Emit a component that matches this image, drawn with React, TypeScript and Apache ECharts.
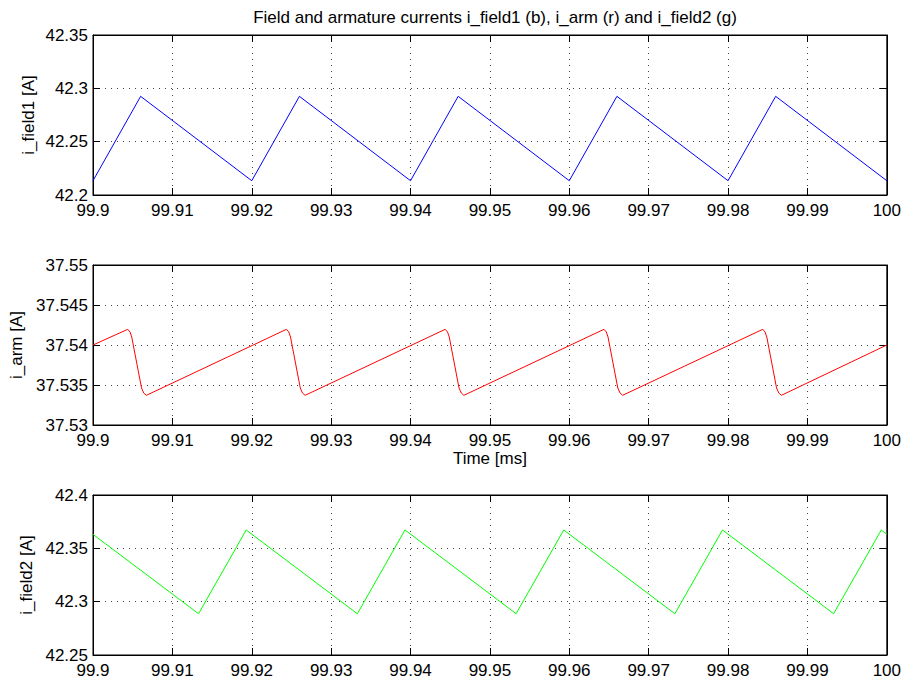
import React, { useEffect, useRef } from "react";
import * as echarts from "echarts";

const titleText = "Field and armature currents i_field1 (b), i_arm (r) and i_field2 (g)";
const xTickMin = 99.9;
const xTickMax = 100;
const xTickStep = 0.01;

const field1Points: [number, number][] = [
  [99.9, 42.2134], [99.906, 42.2925],
  [99.92, 42.2134], [99.926, 42.2925],
  [99.94, 42.2134], [99.946, 42.2925],
  [99.96, 42.2134], [99.966, 42.2925],
  [99.98, 42.2134], [99.986, 42.2925],
  [100, 42.2134],
];

const armPoints: [number, number][] = [
  [99.9, 37.54],
  [99.90437, 37.54196], [99.90466, 37.54163], [99.90488, 37.541], [99.90611, 37.53463], [99.90639, 37.534], [99.90672, 37.53371],
  [99.92437, 37.54196], [99.92466, 37.54163], [99.92488, 37.541], [99.92611, 37.53463], [99.92639, 37.534], [99.92672, 37.53371],
  [99.94437, 37.54196], [99.94466, 37.54163], [99.94488, 37.541], [99.94611, 37.53463], [99.94639, 37.534], [99.94672, 37.53371],
  [99.96437, 37.54196], [99.96466, 37.54163], [99.96488, 37.541], [99.96611, 37.53463], [99.96639, 37.534], [99.96672, 37.53371],
  [99.98437, 37.54196], [99.98466, 37.54163], [99.98488, 37.541], [99.98611, 37.53463], [99.98639, 37.534], [99.98672, 37.53371],
  [100, 37.54],
];

const field2Points: [number, number][] = [
  [99.9, 42.3631],
  [99.9133, 42.2887], [99.9193, 42.3672],
  [99.9333, 42.2887], [99.9393, 42.3672],
  [99.9533, 42.2887], [99.9593, 42.3672],
  [99.9733, 42.2887], [99.9793, 42.3672],
  [99.9933, 42.2887], [99.9993, 42.3672],
  [100, 42.3633],
];

const panels = [
  { name: "i_field1 [A]", min: 42.2, max: 42.35, step: 0.05, data: field1Points, color: "#0000ff", xName: "", gap: 56 },
  { name: "i_arm [A]", min: 37.53, max: 37.55, step: 0.005, data: armPoints, color: "#ff0000", xName: "Time [ms]", gap: 68 },
  { name: "i_field2 [A]", min: 42.25, max: 42.4, step: 0.05, data: field2Points, color: "#00ff00", xName: "", gap: 58 },
];

const FONT = "'Liberation Sans', Arial, sans-serif";
const fmt = (v: number) => String(parseFloat(v.toFixed(4)));

export default function App() {
  const ref = useRef<HTMLDivElement>(null);
  useEffect(() => {
    if (!ref.current) return;
    const chart = echarts.init(ref.current, null, { renderer: "svg" });
    const tops = [35, 265, 495];
    const grids: any[] = [];
    const xAxes: any[] = [];
    const yAxes: any[] = [];
    const series: any[] = [];
    const gridLine = { show: true, lineStyle: { color: "#444", type: [1, 5], width: 1 } };
    panels.forEach((p, i) => {
      grids.push({ left: 93, width: 794, top: tops[i], height: 160, show: true, borderColor: "#000", borderWidth: 1, containLabel: false });
      xAxes.push({
        type: "value", gridIndex: i, min: xTickMin, max: xTickMax, interval: xTickStep,
        position: "bottom",
        name: p.xName, nameLocation: "middle", nameGap: 25, nameMoveOverlap: false,
        nameTextStyle: { fontFamily: FONT, fontSize: 17, lineHeight: 17, color: "#000" },
        axisLine: { show: true, lineStyle: { color: "#000" } },
        axisTick: { show: true, inside: true, length: 7, lineStyle: { color: "#000" } },
        axisLabel: { fontFamily: FONT, fontSize: 17, lineHeight: 14, color: "#000", margin: 8, formatter: fmt, showMinLabel: true, showMaxLabel: true },
        splitLine: gridLine,
      });
      xAxes.push({
        type: "value", gridIndex: i, min: xTickMin, max: xTickMax, interval: xTickStep,
        position: "top",
        axisLine: { show: true, lineStyle: { color: "#000" } },
        axisTick: { show: true, inside: true, length: 7, lineStyle: { color: "#000" } },
        axisLabel: { show: false },
        splitLine: { show: false },
      });
      yAxes.push({
        type: "value", gridIndex: i, min: p.min, max: p.max, interval: p.step,
        position: "left",
        name: p.name, nameLocation: "middle", nameGap: p.gap, nameRotate: 90, nameMoveOverlap: false,
        nameTextStyle: { fontFamily: FONT, fontSize: 17, lineHeight: 17, color: "#000" },
        axisLine: { show: true, lineStyle: { color: "#000" } },
        axisTick: { show: true, inside: true, length: 7, lineStyle: { color: "#000" } },
        axisLabel: { fontFamily: FONT, fontSize: 17, lineHeight: 14, color: "#000", margin: 5, formatter: fmt },
        splitLine: gridLine,
      });
      yAxes.push({
        type: "value", gridIndex: i, min: p.min, max: p.max, interval: p.step,
        position: "right",
        axisLine: { show: true, lineStyle: { color: "#000" } },
        axisTick: { show: true, inside: true, length: 7, lineStyle: { color: "#000" } },
        axisLabel: { show: false },
        splitLine: { show: false },
      });
      series.push({
        type: "line", xAxisIndex: 2 * i, yAxisIndex: 2 * i, data: p.data,
        showSymbol: false, symbol: "none",
        lineStyle: { color: p.color, width: 1 },
        itemStyle: { color: p.color },
      });
    });
    chart.setOption({
      animation: false,
      backgroundColor: "#fff",
      title: {
        text: titleText, left: 490, top: 4, textAlign: "center",
        textStyle: { fontFamily: FONT, fontSize: 17, fontWeight: "normal", color: "#000" },
      },
      grid: grids,
      xAxis: xAxes,
      yAxis: yAxes,
      series,
    });
    return () => chart.dispose();
  }, []);
  return <div ref={ref} style={{ position: "fixed", left: 0, top: 0, width: 904, height: 683, background: "#fff" }} />;
}
